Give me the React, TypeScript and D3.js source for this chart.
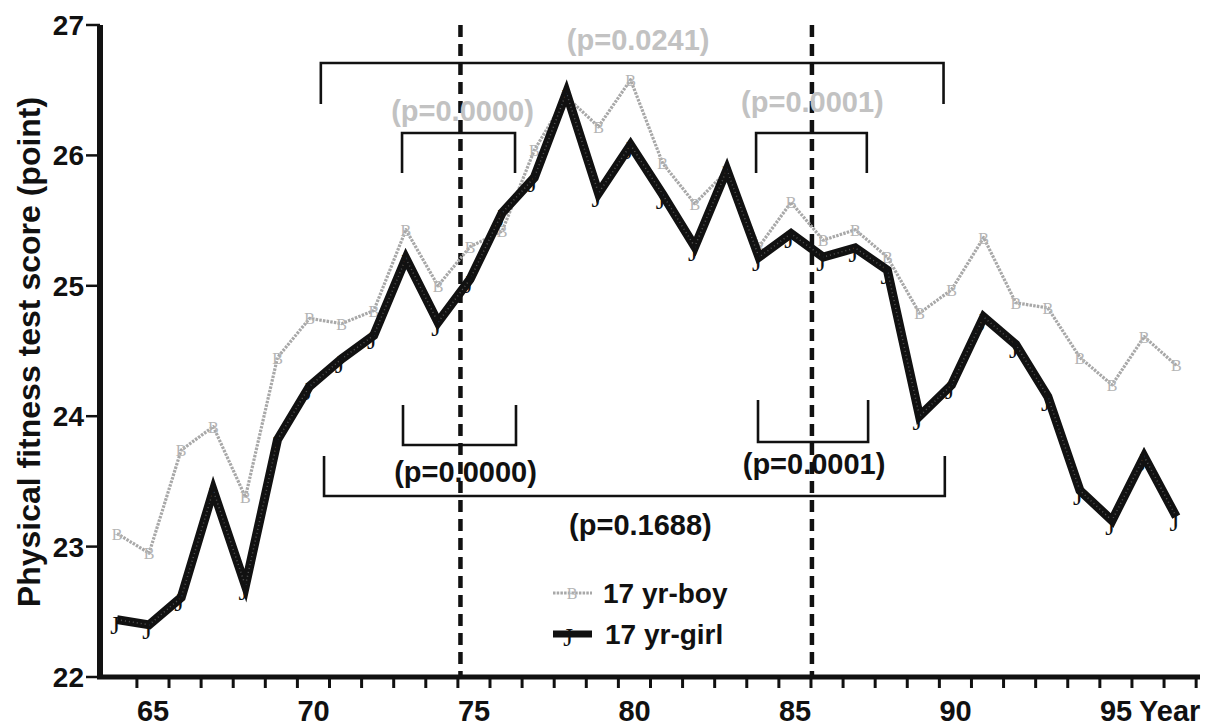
import React from "react";
import * as d3 from "d3";

// Survey years (19xx) and mean physical fitness test scores of 17-year-olds
const years = [64, 65, 66, 67, 68, 69, 70, 71, 72, 73, 74, 75, 76, 77, 78, 79, 80, 81, 82, 83, 84, 85, 86, 87, 88, 89, 90, 91, 92, 93, 94, 95, 96, 97];
const boyScores = [23.10, 22.95, 23.74, 23.92, 23.38, 24.45, 24.75, 24.71, 24.81, 25.43, 25.00, 25.30, 25.42, 26.04, 26.45, 26.22, 26.58, 25.94, 25.63, 25.88, 25.30, 25.64, 25.35, 25.43, 25.22, 24.79, 24.97, 25.37, 24.87, 24.83, 24.45, 24.24, 24.61, 24.39];
const girlScores = [22.44, 22.40, 22.61, 23.43, 22.70, 23.82, 24.23, 24.44, 24.62, 25.21, 24.72, 25.05, 25.56, 25.83, 26.48, 25.71, 26.08, 25.70, 25.30, 25.89, 25.22, 25.40, 25.22, 25.29, 25.12, 24.00, 24.24, 24.76, 24.55, 24.15, 23.43, 23.20, 23.69, 23.23];

const yTickValues = [22, 23, 24, 25, 26, 27];
const xLabelYears = [65, 70, 75, 80, 85, 90, 95];

// Period boundaries (dashed) and comparison brackets, in years
const dividerYears = [74.7, 85.65];
const bracketFrom = [70.35, 72.88, 83.91, 72.91, 83.97, 70.45];
const bracketTo = [89.75, 76.4, 87.36, 76.43, 87.4, 89.79];
const bracketLabels = ["(p=0.0241)", "(p=0.0000)", "(p=0.0001)", "(p=0.0000)", "(p=0.0001)", "(p=0.1688)"];

// Bracket layout: bar y, leg end y, label centre y, label colour
const bracketLayout = [
  { bar: 63, leg: 104, labelY: 42, dx: 6, color: "#c2c2c2" },
  { bar: 133, leg: 173, labelY: 113, dx: 4, color: "#c2c2c2" },
  { bar: 133, leg: 173, labelY: 104, dx: 1, color: "#c2c2c2" },
  { bar: 445, leg: 405, labelY: 474, dx: 6, color: "#111" },
  { bar: 442, leg: 400, labelY: 466, dx: 1, color: "#111" },
  { bar: 496, leg: 456, labelY: 527, dx: 6, color: "#111" },
];

const W = 1206;
const H = 728;
const FONT = "'Liberation Sans', Arial, Helvetica, sans-serif";
const SERIF = "'Liberation Serif', 'Times New Roman', serif";

export default function App() {
  const x = d3.scaleLinear().domain([63.47, 97.74]).range([100, 1200]);
  const y = d3.scaleLinear().domain([22, 27]).range([677, 25]);

  const line = d3
    .line<[number, number]>()
    .x((d) => x(d[0]))
    .y((d) => y(d[1]));

  const boyPts: [number, number][] = years.map((yr, i) => [yr, boyScores[i]]);
  const girlPts: [number, number][] = years.map((yr, i) => [yr, girlScores[i]]);

  const xTicks = years.map((yr) => yr + 0.62);

  return (
    <svg
      width={W}
      height={H}
      viewBox={`0 0 ${W} ${H}`}
      style={{ position: "absolute", left: 0, top: 0, background: "#fff" }}
      fontFamily={FONT}
    >
      <rect x={0} y={0} width={W} height={H} fill="#fff" />

      {/* dashed period dividers */}
      {dividerYears.map((d, i) => (
        <line
          key={`div-${i}`}
          x1={x(d)}
          x2={x(d)}
          y1={y(27)}
          y2={y(22)}
          stroke="#111"
          strokeWidth={4.5}
          strokeDasharray="12 7"
        />
      ))}

      {/* comparison brackets */}
      {bracketLabels.map((label, i) => {
        const L = bracketLayout[i];
        const x0 = x(bracketFrom[i]);
        const x1 = x(bracketTo[i]);
        return (
          <g key={`br-${i}`}>
            <path
              d={`M${x0},${L.leg}V${L.bar}H${x1}V${L.leg}`}
              fill="none"
              stroke="#111"
              strokeWidth={2.6}
            />
            <text
              x={(x0 + x1) / 2 + L.dx}
              y={L.labelY + 7.5}
              textAnchor="middle"
              fontSize={29}
              fontWeight="bold"
              fill={L.color}
            >
              {label}
            </text>
          </g>
        );
      })}

      {/* 17 yr-boy series */}
      <path
        d={line(boyPts) || ""}
        fill="none"
        stroke="#a8a8a8"
        strokeWidth={3.2}
        strokeDasharray="2.5 1.2"
        strokeLinejoin="round"
      />
      {boyPts.map((p, i) => (
        <text
          key={`bm-${i}`}
          x={x(p[0])}
          y={y(p[1]) + 6}
          textAnchor="middle"
          fontSize={16}
          fontFamily={SERIF}
          fill="#b4b4b4"
        >
          B
        </text>
      ))}

      {/* 17 yr-girl series */}
      <path
        d={line(girlPts) || ""}
        fill="none"
        stroke="#111"
        strokeWidth={9}
        strokeLinejoin="miter"
      />
      <path
        d={line(girlPts) || ""}
        fill="none"
        stroke="#555"
        strokeWidth={1.5}
        strokeDasharray="1 3"
      />
      {girlPts.map((p, i) => (
        <text
          key={`gm-${i}`}
          x={x(p[0]) - 2}
          y={y(p[1]) + 14}
          textAnchor="middle"
          fontSize={25}
          fontFamily={SERIF}
          fill="#111"
        >
          J
        </text>
      ))}

      {/* axes */}
      <line x1={100} x2={100} y1={y(27)} y2={y(22) + 2} stroke="#111" strokeWidth={6} />
      <line x1={97} x2={1200} y1={y(22)} y2={y(22)} stroke="#111" strokeWidth={5} />
      {yTickValues.map((v) => (
        <g key={`yt-${v}`}>
          <line x1={86} x2={100} y1={y(v)} y2={y(v)} stroke="#111" strokeWidth={2.5} />
          <text
            x={84}
            y={y(v) + 10}
            textAnchor="end"
            fontSize={28}
            fontWeight="bold"
            fill="#111"
          >
            {v}
          </text>
        </g>
      ))}
      {xTicks.map((t, i) => (
        <line
          key={`xt-${i}`}
          x1={x(t)}
          x2={x(t)}
          y1={y(22)}
          y2={y(22) + 11}
          stroke="#111"
          strokeWidth={3}
        />
      ))}
      {xLabelYears.map((yr) => (
        <text
          key={`xl-${yr}`}
          x={x(yr) + 4}
          y={721}
          textAnchor="middle"
          fontSize={29}
          fontWeight="bold"
          fill="#111"
        >
          {yr}
        </text>
      ))}
      <text x={x(95) + 27} y={721} fontSize={29} fontWeight="bold" fill="#111">
        Year
      </text>

      {/* y-axis title */}
      <text
        transform="translate(40,352) rotate(-90)"
        textAnchor="middle"
        fontSize={32}
        fontWeight="bold"
        fill="#111"
      >
        Physical fitness test score (point)
      </text>

      {/* legend */}
      <g>
        <line x1={553} x2={592} y1={593} y2={593} stroke="#a8a8a8" strokeWidth={3.2} strokeDasharray="2.5 1.2" />
        <text x={572} y={599} textAnchor="middle" fontSize={16} fontFamily={SERIF} fill="#b4b4b4">
          B
        </text>
        <text x={603} y={603} fontSize={28} fontWeight="bold" fill="#111">
          17 yr-boy
        </text>
        <line x1={553} x2={592} y1={634} y2={634} stroke="#111" strokeWidth={7} />
        <text x={568} y={646} textAnchor="middle" fontSize={25} fontFamily={SERIF} fill="#111">
          J
        </text>
        <text x={605} y={644} fontSize={28} fontWeight="bold" fill="#111">
          17 yr-girl
        </text>
      </g>
    </svg>
  );
}
